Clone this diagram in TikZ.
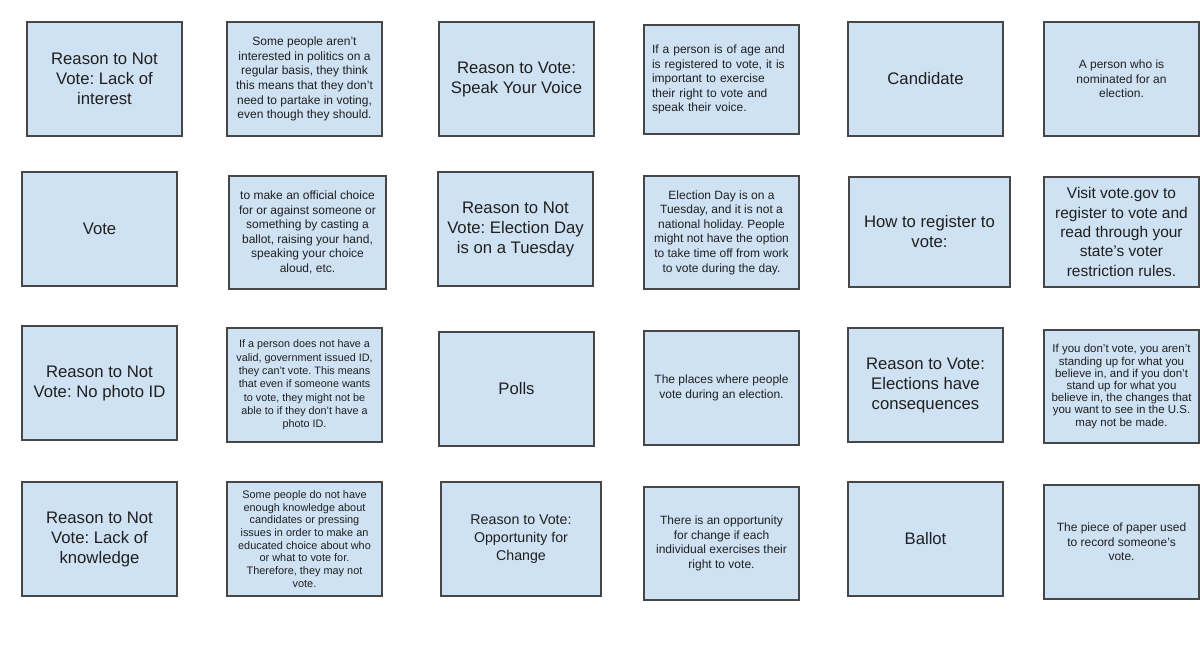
\documentclass[tikz,border=0pt]{standalone}
\usepackage{fontspec}
\setmainfont{Liberation Sans}
\usepackage{tikz}
\frenchspacing

\definecolor{cardfill}{HTML}{CFE2F3}
\definecolor{cardline}{HTML}{474747}
\definecolor{cardtext}{HTML}{1F1F1F}

\begin{document}
\begin{tikzpicture}[
  x=1pt, y=-1pt,
  card/.style={draw=cardline, fill=cardfill, line width=1.2pt, minimum width=155pt,
               minimum height=114pt, inner sep=0pt, align=center, text=cardtext},
  term/.style={card, font=\fontsize{16.7}{20}\selectfont},
  defn/.style={card, font=\fontsize{12}{14.6}\selectfont}
]
  \path[use as bounding box, fill=white] (0,0) rectangle (1200,654);

  \node[term] (lackint) at (104.5,79) {Reason to Not\\Vote: Lack of\\interest};
  \node[defn] (lackintdef) at (304.5,79) {Some people aren't\\interested in politics on a\\regular basis, they think\\this means that they don't\\need to partake in voting,\\even though they should.};
  \node[term] (speak) at (516.5,79) {Reason to Vote:\\Speak Your Voice};
  \node[defn, minimum height=109pt, text width=139pt, align=left] (speakdef) at (721.5,79.5) {If a person is of age and\\is registered to vote, it is\\important to exercise\\their right to vote and\\speak their voice.};
  \node[term] (cand) at (925.5,79) {Candidate};
  \node[defn] (canddef) at (1121.5,79) {A person who is\\nominated for an\\election.};

  \node[term] (vote) at (99.5,229) {Vote};
  \node[defn, minimum width=157pt, minimum height=113pt] (votedef) at (307.5,232.5) {to make an official choice\\for or against someone or\\something by casting a\\ballot, raising your hand,\\speaking your choice\\aloud, etc.};
  \node[term] (tuesday) at (515.5,229) {Reason to Not\\Vote: Election Day\\is on a Tuesday};
  \node[defn, minimum height=113pt] (tuesdaydef) at (721.5,232.5) {Election Day is on a\\Tuesday, and it is not a\\national holiday. People\\might not have the option\\to take time off from work\\to vote during the day.};
  \node[term, minimum width=161pt, minimum height=110pt] (register) at (929.5,232) {How to register to\\vote:};
  \node[defn, minimum height=110pt, font=\fontsize{15.5}{19.3}\selectfont] (registerdef) at (1121.5,232) {Visit vote.gov to\\register to vote and\\read through your\\state's voter\\restriction rules.};

  \node[term] (noid) at (99.5,383) {Reason to Not\\Vote: No photo ID};
  \node[defn, font=\fontsize{10.8}{13.3}\selectfont] (noiddef) at (304.5,385) {If a person does not have a\\valid, government issued ID,\\they can't vote. This means\\that even if someone wants\\to vote, they might not be\\able to if they don't have a\\photo ID.};
  \node[term] (polls) at (516.5,389) {Polls};
  \node[defn] (pollsdef) at (721.5,388) {The places where people\\vote during an election.};
  \node[term] (conseq) at (925.5,385) {Reason to Vote:\\Elections have\\consequences};
  \node[defn, minimum height=113pt, font=\fontsize{11.5}{12.2}\selectfont] (conseqdef) at (1121.5,386.5) {If you don't vote, you aren't\\standing up for what you\\believe in, and if you don't\\stand up for what you\\believe in, the changes that\\you want to see in the U.S.\\may not be made.};

  \node[term] (lackknow) at (99.5,539) {Reason to Not\\Vote: Lack of\\knowledge};
  \node[defn, font=\fontsize{10.9}{12.7}\selectfont] (lackknowdef) at (304.5,539) {Some people do not have\\enough knowledge about\\candidates or pressing\\issues in order to make an\\educated choice about who\\or what to vote for.\\Therefore, they may not\\vote.};
  \node[term, minimum width=160pt, font=\fontsize{14.2}{17.7}\selectfont] (change) at (521,539) {Reason to Vote:\\Opportunity for\\Change};
  \node[defn, minimum height=113pt] (changedef) at (721.5,543.5) {There is an opportunity\\for change if each\\individual exercises their\\right to vote.};
  \node[term] (ballot) at (925.5,539) {Ballot};
  \node[defn] (ballotdef) at (1121.5,542) {The piece of paper used\\to record someone's\\vote.};
\end{tikzpicture}
\end{document}
